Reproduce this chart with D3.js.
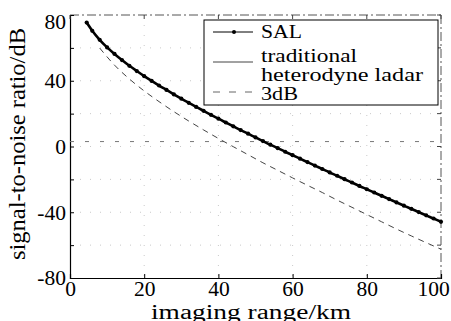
<!DOCTYPE html>
<html><head><meta charset="utf-8">
<script src="https://cdn.jsdelivr.net/npm/d3@7"></script>
<style>body{margin:0;background:#fff}svg{display:block}svg text{font-family:'Liberation Serif','Tinos','Times New Roman',Times,'Nimbus Roman','DejaVu Serif',serif !important;fill:#000}</style>
</head><body><svg id="c" width="451" height="321"></svg>
<script>
// ---- data ----
const salRange = [4.5,6,8,10,12,14,16,18,20,22,24,26,28,30,32,34,36,38,40,42,44,46,48,50,52,54,56,58,60,62,64,66,68,70,72,74,76,78,80,82,84,86,88,90,92,94,96,98,100];
const salSNR = [75.4,70.4,64.9,60.3,56.3,52.6,49.1,45.9,42.8,39.9,37.1,34.4,31.7,29.1,26.6,24.1,21.7,19.3,16.9,14.6,12.3,10.0,7.8,5.5,3.3,1.1,-1.0,-3.2,-5.3,-7.4,-9.5,-11.6,-13.7,-15.8,-17.8,-19.9,-21.9,-24.0,-26.0,-28.0,-30.0,-32.0,-34.0,-36.0,-37.9,-39.9,-41.9,-43.8,-45.8];
const tradRange = [8,12,16,20,24,28,32,36,40,44,48,52,56,60,64,68,72,76,80,84,88,92,96,100];
const tradSNR = [59.9,49.5,41.1,33.8,27.3,21.2,15.5,10.1,4.9,-0.1,-5.0,-9.9,-14.5,-19.1,-23.6,-28.0,-32.6,-37.0,-41.4,-45.8,-50.2,-54.4,-58.5,-62.5];
const thresholdDB = [3];
const xTicks = [0,20,40,60,80,100];
const yTicks = [-80,-60,-40,-20,0,20,40,60,80];
const yTickLabels = [-80,-40,0,40,80];
const legendLabels = ["SAL","traditional","heterodyne ladar","3dB"];
const xTitle = "imaging range/km";
const yTitle = "signal-to-noise ratio/dB";

// ---- layout ----
const L=70, R=441, T=15, B=278;
const FONT = "'Liberation Serif','Tinos','Times New Roman',Times,serif";
const svg = d3.select("#c");
svg.append("rect").attr("width",451).attr("height",321).attr("fill","#fff");
const x = d3.scaleLinear().domain([0,100]).range([L,R]);
const y = d3.scaleLinear().domain([-80,80]).range([B,T]);

// faint grid
const grid = svg.append("g").attr("stroke","#bbb").attr("stroke-width",0.8).attr("stroke-dasharray","1,9");
grid.selectAll("line.v").data(xTicks.slice(1,-1)).join("line")
  .attr("x1",d=>x(d)).attr("x2",d=>x(d)).attr("y1",T).attr("y2",B);
grid.selectAll("line.h").data(yTicks.slice(1,-1)).join("line")
  .attr("y1",d=>y(d)).attr("y2",d=>y(d)).attr("x1",L).attr("x2",R);

// top & right border (broken)
svg.append("line").attr("x1",L).attr("x2",R).attr("y1",T).attr("y2",T)
  .attr("stroke","#555").attr("stroke-width",1).attr("stroke-dasharray","9,3,2,3");
svg.append("line").attr("x1",R).attr("x2",R).attr("y1",T).attr("y2",B)
  .attr("stroke","#555").attr("stroke-width",1).attr("stroke-dasharray","9,3,2,3");

// axes
const fmt = d => String(d);
const gx = svg.append("g").attr("transform",`translate(0,${B})`)
  .call(d3.axisBottom(x).tickValues(xTicks).tickSize(-4).tickPadding(3).tickFormat(fmt));
const gy = svg.append("g").attr("transform",`translate(${L},0)`)
  .call(d3.axisLeft(y).tickValues(yTicks).tickSize(-4).tickPadding(4)
    .tickFormat(d => yTickLabels.includes(d) ? fmt(d) : ""));
[gx,gy].forEach(g=>{
  g.attr("font-family",FONT);
  g.select(".domain").attr("stroke","#000").attr("stroke-width",1.2);
  g.selectAll(".tick line").attr("stroke","#000");
  g.selectAll("text").attr("font-size",21.5).attr("fill","#000");
});
gx.selectAll(".tick text").attr("dy","0.71em");
gx.selectAll(".tick").filter(d=>d===100).select("text").attr("dx",-8);
gy.selectAll(".tick").filter(d=>d===80).select("text").attr("dy","0.62em");
// top/right ticks
svg.append("g").selectAll("line").data(xTicks).join("line")
  .attr("x1",d=>x(d)).attr("x2",d=>x(d)).attr("y1",T).attr("y2",T+4).attr("stroke","#444");
svg.append("g").selectAll("line").data(yTicks).join("line")
  .attr("x1",R-4).attr("x2",R).attr("y1",d=>y(d)).attr("y2",d=>y(d)).attr("stroke","#444");

// 3dB threshold
svg.append("g").selectAll("line").data(thresholdDB).join("line")
  .attr("x1",L).attr("x2",R).attr("y1",d=>y(d)).attr("y2",d=>y(d))
  .attr("stroke","#777").attr("stroke-width",1).attr("stroke-dasharray","4,11");

// traditional
const tradPts = tradRange.map((r,i)=>[r,tradSNR[i]]);
svg.append("path").datum(tradPts)
  .attr("d",d3.line().x(d=>x(d[0])).y(d=>y(d[1])).curve(d3.curveMonotoneX))
  .attr("fill","none").attr("stroke","#444").attr("stroke-width",1).attr("stroke-dasharray","6,5");

// SAL
const salPts = salRange.map((r,i)=>[r,salSNR[i]]);
svg.append("path").datum(salPts)
  .attr("d",d3.line().x(d=>x(d[0])).y(d=>y(d[1])).curve(d3.curveMonotoneX))
  .attr("fill","none").attr("stroke","#000").attr("stroke-width",2.6);
svg.append("g").selectAll("circle").data(salPts).join("circle")
  .attr("cx",d=>x(d[0])).attr("cy",d=>y(d[1])).attr("r",2.1).attr("fill","#000");

// legend
const lg = svg.append("g").attr("font-family",FONT);
lg.append("rect").attr("x",204).attr("y",20).attr("width",234).attr("height",85)
  .attr("fill","#fff").attr("stroke","#000").attr("stroke-width",1);
const lx = 261, lLens=[41,96,162,37], lBase=[38,62,81,100];
legendLabels.forEach((t,i)=>{
  lg.append("text").attr("x",lx).attr("y",lBase[i]).attr("font-size",19)
    .attr("textLength",lLens[i]).attr("lengthAdjust","spacingAndGlyphs").text(t);
});
lg.append("line").attr("x1",213).attr("x2",253).attr("y1",32).attr("y2",32).attr("stroke","#000").attr("stroke-width",1);
lg.append("circle").attr("cx",234).attr("cy",32).attr("r",2).attr("fill","#000");
lg.append("line").attr("x1",213).attr("x2",253).attr("y1",62).attr("y2",62).attr("stroke","#444").attr("stroke-width",1);
lg.append("line").attr("x1",213).attr("x2",253).attr("y1",92).attr("y2",92).attr("stroke","#666").attr("stroke-width",1).attr("stroke-dasharray","7,9");

// titles
svg.append("text").attr("font-family",FONT).attr("x",251).attr("y",318.5).attr("text-anchor","middle").attr("font-size",20)
  .attr("textLength",200).attr("lengthAdjust","spacingAndGlyphs").text(xTitle);
svg.append("text").attr("font-family",FONT).attr("transform","translate(25,144) rotate(-90)").attr("text-anchor","middle").attr("font-size",24)
  .attr("textLength",232).attr("lengthAdjust","spacingAndGlyphs").text(yTitle);
</script></body></html>
